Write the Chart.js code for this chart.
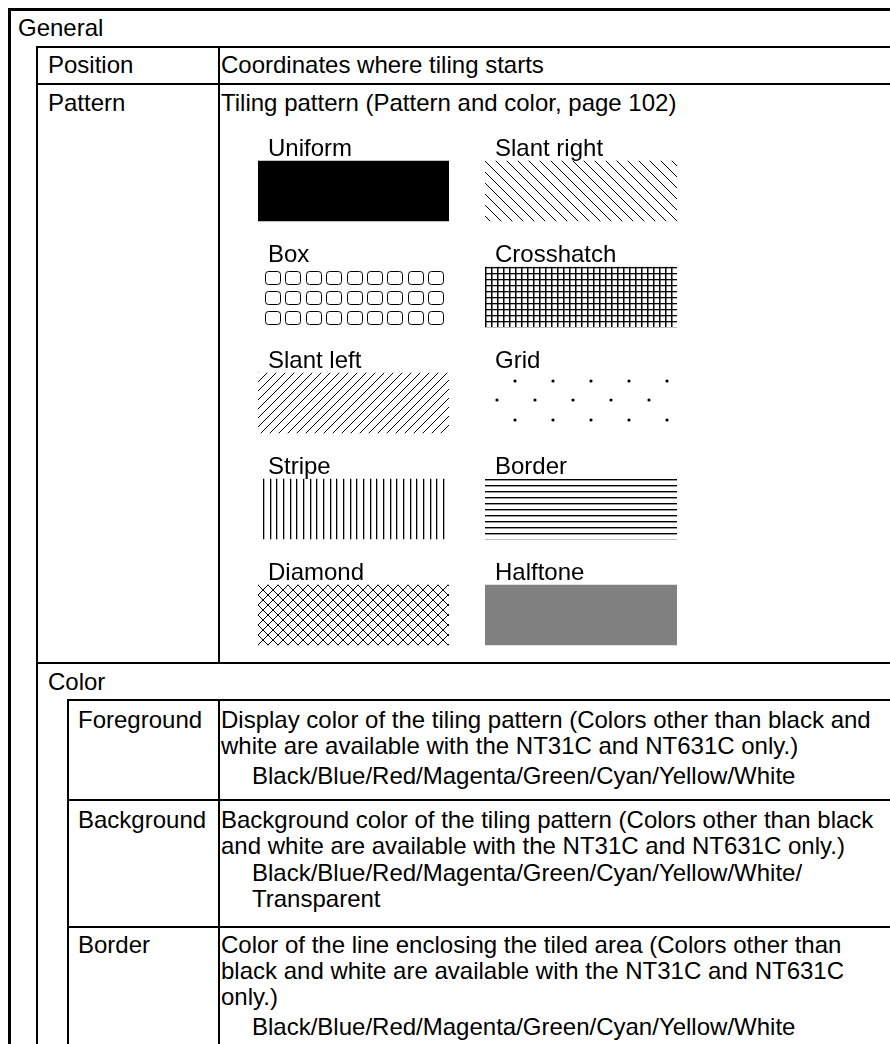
<!DOCTYPE html>
<html>
<head>
<meta charset="utf-8">
<script src="https://cdn.jsdelivr.net/npm/chart.js@4.4.1/dist/chart.umd.min.js"></script>
<style>
  html, body { margin: 0; padding: 0; background: #fff; }
  body { width: 890px; height: 1044px; overflow: hidden; position: relative;
         font-family: "Liberation Sans", Arial, sans-serif; font-size: 24px; line-height: 26px; color: #000; }
  .ln { position: absolute; background: #000; }
  .t { position: absolute; white-space: nowrap; }
  canvas { position: absolute; }
</style>
</head>
<body>
<!-- table frame -->
<div class="ln" style="left:8px;top:8px;width:900px;height:3px"></div>
<div class="ln" style="left:8px;top:8px;width:3px;height:1100px"></div>
<div class="ln" style="left:36px;top:46px;width:900px;height:2px"></div>
<div class="ln" style="left:36px;top:46px;width:2px;height:1100px"></div>
<div class="ln" style="left:218px;top:46px;width:2px;height:618px"></div>
<div class="ln" style="left:36px;top:83px;width:900px;height:2px"></div>
<div class="ln" style="left:36px;top:662px;width:900px;height:2px"></div>
<div class="ln" style="left:67px;top:699px;width:900px;height:2px"></div>
<div class="ln" style="left:67px;top:699px;width:2px;height:400px"></div>
<div class="ln" style="left:218px;top:699px;width:2px;height:400px"></div>
<div class="ln" style="left:67px;top:799px;width:900px;height:2px"></div>
<div class="ln" style="left:67px;top:926px;width:900px;height:2px"></div>

<!-- table text -->
<div class="t" style="left:18px;top:15px">General</div>
<div class="t" style="left:48px;top:52px">Position</div>
<div class="t" style="left:221px;top:52px">Coordinates where tiling starts</div>
<div class="t" style="left:48px;top:90px">Pattern</div>
<div class="t" style="left:221px;top:90px">Tiling pattern (Pattern and color, page 102)</div>
<div class="t" style="left:48px;top:669px">Color</div>

<div class="t" style="left:78px;top:707px">Foreground</div>
<div class="t" style="left:221px;top:707px">Display color of the tiling pattern (Colors other than black and<br>white are available with the NT31C and NT631C only.)</div>
<div class="t" style="left:252px;top:763px">Black/Blue/Red/Magenta/Green/Cyan/Yellow/White</div>

<div class="t" style="left:78px;top:807px">Background</div>
<div class="t" style="left:221px;top:807px">Background color of the tiling pattern (Colors other than black<br>and white are available with the NT31C and NT631C only.)</div>
<div class="t" style="left:252px;top:860px">Black/Blue/Red/Magenta/Green/Cyan/Yellow/White/<br>Transparent</div>

<div class="t" style="left:78px;top:932px">Border</div>
<div class="t" style="left:221px;top:932px">Color of the line enclosing the tiled area (Colors other than<br>black and white are available with the NT31C and NT631C<br>only.)</div>
<div class="t" style="left:252px;top:1014px">Black/Blue/Red/Magenta/Green/Cyan/Yellow/White</div>

<canvas id="leftChart" width="191" height="540" style="left:258px;top:128px"></canvas>
<canvas id="rightChart" width="192" height="540" style="left:485px;top:128px"></canvas>

<script>
// Pattern swatches, one column per chart
const leftNames = ['Uniform', 'Box', 'Slant left', 'Stripe', 'Diamond'];
const leftKinds = ['uniform', 'box', 'slantLeft', 'stripe', 'diamond'];
const leftFill = [1, 1, 1, 1, 1];

const rightNames = ['Slant right', 'Crosshatch', 'Grid', 'Border', 'Halftone'];
const rightKinds = ['slantRight', 'crosshatch', 'grid', 'border', 'halftone'];
const rightFill = [1, 1, 1, 1, 1];

const BAR_H = 60;

function tile(w, h, draw) {
    const c = document.createElement('canvas');
    c.width = w;
    c.height = h;
    const g = c.getContext('2d');
    g.fillStyle = '#000';
    g.strokeStyle = '#000';
    draw(g, w, h);
    return c;
}

// builds the fill for one kind of swatch; dx shifts the tile phase
function makeFill(kind) {
    let c, repeat = 'repeat', dx = 0;
    switch (kind) {
        case 'uniform':
            return '#000';
        case 'halftone':
            return '#808080';
        case 'slantRight':
            c = tile(11, 11, (g) => {
                g.lineWidth = 1;
                g.beginPath();
                [-11, 0, 11].forEach(o => { g.moveTo(o - 1, -1); g.lineTo(o + 12, 12); });
                g.stroke();
            });
            break;
        case 'slantLeft':
            c = tile(9, 9, (g) => {
                g.lineWidth = 1;
                g.beginPath();
                [-9, 0, 9].forEach(o => { g.moveTo(o - 1, 10); g.lineTo(o + 10, -1); });
                g.stroke();
            });
            break;
        case 'diamond':
            c = tile(10, 10, (g) => {
                g.lineWidth = 1;
                g.beginPath();
                [-10, 0, 10].forEach(o => {
                    g.moveTo(o - 1, -1); g.lineTo(o + 11, 11);
                    g.moveTo(o - 1, 11); g.lineTo(o + 11, -1);
                });
                g.stroke();
            });
            break;
        case 'box':
            repeat = 'no-repeat';
            c = tile(191, 61, (g) => {
                g.lineWidth = 1;
                for (let r = 0; r < 3; r++) {
                    for (let k = 0; k < 9; k++) {
                        g.beginPath();
                        g.roundRect(Math.round(7 + k * 20.4) + 0.5, 4.5 + r * 20, 15, 13, 3);
                        g.stroke();
                    }
                }
            });
            break;
        case 'crosshatch':
            c = tile(6, 6, (g) => {
                g.fillRect(0, 0, 6, 1.3);
                g.fillRect(0, 0, 1.5, 6);
            });
            break;
        case 'stripe':
            dx = 5;
            c = tile(20, 10, (g) => {
                g.fillRect(0, 0, 1.3, 10);
                g.fillRect(7, 0, 1.3, 10);
                g.fillRect(13, 0, 1.3, 10);
            });
            break;
        case 'border':
            c = tile(6, 6, (g) => {
                g.fillRect(0, 0, 6, 1.4);
            });
            break;
        case 'grid':
            c = tile(38, 39, (g) => {
                g.beginPath();
                g.arc(30, 8, 1.6, 0, Math.PI * 2);
                g.arc(12, 27, 1.6, 0, Math.PI * 2);
                g.fill();
            });
            break;
    }
    return { canvas: c, repeat: repeat, dx: dx };
}

function swatchColor(kinds) {
    return function(context) {
        if (context.type !== 'data') return '#000';
        const f = makeFill(kinds[context.dataIndex]);
        if (typeof f === 'string') return f;
        const chart = context.chart;
        const p = chart.ctx.createPattern(f.canvas, f.repeat);
        // before the first layout there is no chart area yet
        const area = chart.chartArea;
        const yScale = chart.scales && chart.scales.y;
        if (area && yScale) {
            const top = yScale.getPixelForValue(context.dataIndex) - BAR_H / 2;
            p.setTransform(new DOMMatrix([1, 0, 0, 1, area.left + f.dx, top]));
        }
        return p;
    };
}

// writes each swatch name above its bar
const swatchLabels = {
    id: 'swatchLabels',
    afterDatasetsDraw(chart) {
        const ctx = chart.ctx;
        const meta = chart.getDatasetMeta(0);
        ctx.save();
        ctx.font = '24px "Liberation Sans", Arial, sans-serif';
        ctx.fillStyle = '#000';
        ctx.textBaseline = 'alphabetic';
        meta.data.forEach((bar, i) => {
            const p = bar.getProps(['x', 'y', 'base', 'height'], true);
            const left = Math.min(p.x, p.base);
            const top = p.y - p.height / 2;
            ctx.fillText(chart.data.labels[i], left + 10, top - 5.5);
        });
        ctx.restore();
    }
};

function buildChart(id, names, fills, kinds) {
    const ctx = document.getElementById(id).getContext('2d');
    return new Chart(ctx, {
        type: 'bar',
        data: {
            labels: names,
            datasets: [{
                data: fills,
                backgroundColor: swatchColor(kinds),
                borderWidth: 0,
                barThickness: BAR_H
            }]
        },
        options: {
            indexAxis: 'y',
            responsive: false,
            animation: false,
            events: [],
            devicePixelRatio: 1,
            layout: { padding: { top: 10, left: 0, right: 0, bottom: 0 } },
            scales: {
                x: { display: false, min: 0, max: 1 },
                y: { display: false }
            },
            plugins: {
                legend: { display: false },
                tooltip: { enabled: false }
            }
        },
        plugins: [swatchLabels]
    });
}

buildChart('leftChart', leftNames, leftFill, leftKinds);
buildChart('rightChart', rightNames, rightFill, rightKinds);
</script>
</body>
</html>
